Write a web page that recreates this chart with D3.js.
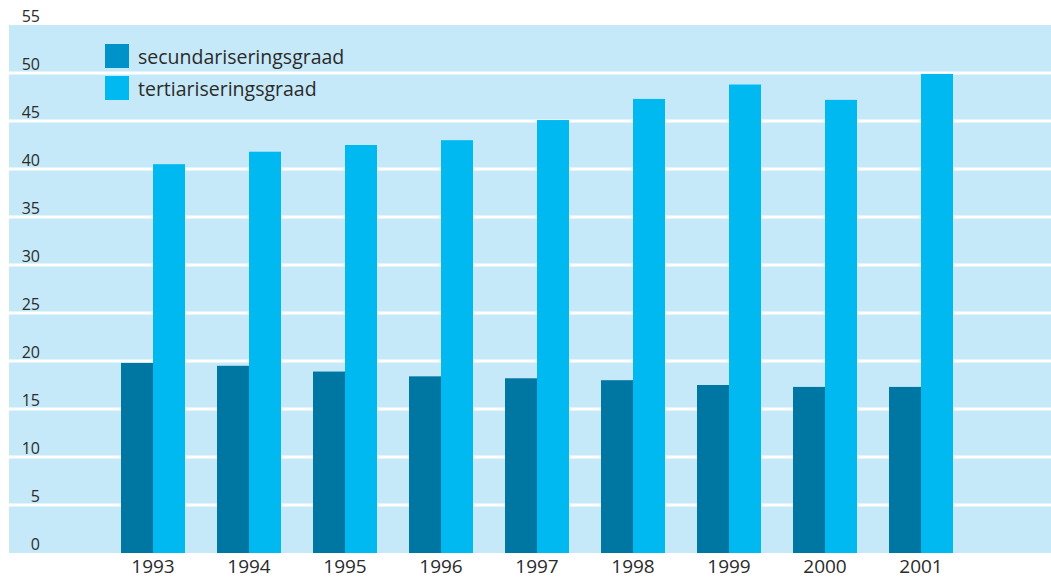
<!DOCTYPE html>
<html>
<head>
<meta charset="utf-8">
<title>Secundarisering en tertiarisering</title>
<script src="https://d3js.org/d3.v7.min.js"></script>
<style>
  body { margin: 0; background: #fff; }
  svg { display: block; font-family: "Open Sans", "Noto Sans", sans-serif; }
  .tick-label { font-size: 16px; fill: #2b2b2b; }
  .year-label { font-size: 19px; fill: #2b2b2b; }
  .legend-label { font-size: 19.5px; fill: #2b2b2b; }
</style>
</head>
<body>
<div id="chart"></div>
<script>
// data
var years = ["1993", "1994", "1995", "1996", "1997", "1998", "1999", "2000", "2001"];
var secundair = [19.8, 19.5, 18.9, 18.4, 18.2, 18.0, 17.5, 17.3, 17.3];
var tertiair = [40.5, 41.8, 42.5, 43.0, 45.1, 47.3, 48.8, 47.2, 49.9];
var seriesNames = ["secundariseringsgraad", "tertiariseringsgraad"];
var yTicks = [0, 5, 10, 15, 20, 25, 30, 35, 40, 45, 50, 55];

var width = 1051, height = 579;
var panelLeft = 9, panelRight = 1051, panelTop = 25, panelBottom = 553;

var svg = d3.select("#chart").append("svg")
  .attr("width", width)
  .attr("height", height);

var y = d3.scaleLinear().domain([0, 55]).range([panelBottom, panelTop]);

// groups: 96px step, bar pairs 64px wide
var x = d3.scaleBand().domain(years)
  .range([89, 89 + 96 * (9 + 1/3)])
  .paddingInner(1/3)
  .paddingOuter(1/3);
var xs = d3.scaleBand().domain([0, 1]).range([0, x.bandwidth()]);

// background panel
svg.append("rect")
  .attr("x", panelLeft).attr("y", y(55))
  .attr("width", panelRight - panelLeft)
  .attr("height", y(0) - y(55))
  .attr("fill", "#c5e9f8");

// white gridlines
svg.selectAll(".grid")
  .data(yTicks.filter(d => d > 0 && d < 55))
  .join("line")
  .attr("class", "grid")
  .attr("x1", panelLeft).attr("x2", panelRight)
  .attr("y1", d => y(d)).attr("y2", d => y(d))
  .attr("stroke", "#fff")
  .attr("stroke-width", 3);

// tick labels sit just above their line
svg.selectAll(".tick-label")
  .data(yTicks)
  .join("text")
  .attr("class", "tick-label")
  .attr("x", 40)
  .attr("y", d => y(d) - 3)
  .attr("text-anchor", "end")
  .text(d => d);

var colors = ["#0077a3", "#00b9f1"];
var series = [secundair, tertiair];

var group = svg.selectAll(".year")
  .data(years)
  .join("g")
  .attr("class", "year")
  .attr("transform", d => "translate(" + x(d) + ",0)");

group.selectAll("rect")
  .data((d, i) => series.map((s, k) => ({k: k, v: s[i]})))
  .join("rect")
  .attr("x", d => xs(d.k))
  .attr("width", xs.bandwidth())
  .attr("y", d => y(d.v))
  .attr("height", d => y(0) - y(d.v))
  .attr("fill", d => colors[d.k]);

// year labels
svg.selectAll(".year-label")
  .data(years)
  .join("text")
  .attr("class", "year-label")
  .attr("x", d => x(d) + x.bandwidth() / 2)
  .attr("y", 573)
  .attr("text-anchor", "middle")
  .text(d => d);

// legend
var legendColors = ["#0093c9", "#00b9f1"];
var legend = svg.selectAll(".legend")
  .data(seriesNames)
  .join("g")
  .attr("class", "legend")
  .attr("transform", (d, i) => "translate(105," + (44 + i * 32) + ")");
legend.append("rect")
  .attr("width", 24).attr("height", 24)
  .attr("fill", (d, i) => legendColors[i]);
legend.append("text")
  .attr("class", "legend-label")
  .attr("x", 33)
  .attr("y", 20)
  .text(d => d);
</script>
</body>
</html>
